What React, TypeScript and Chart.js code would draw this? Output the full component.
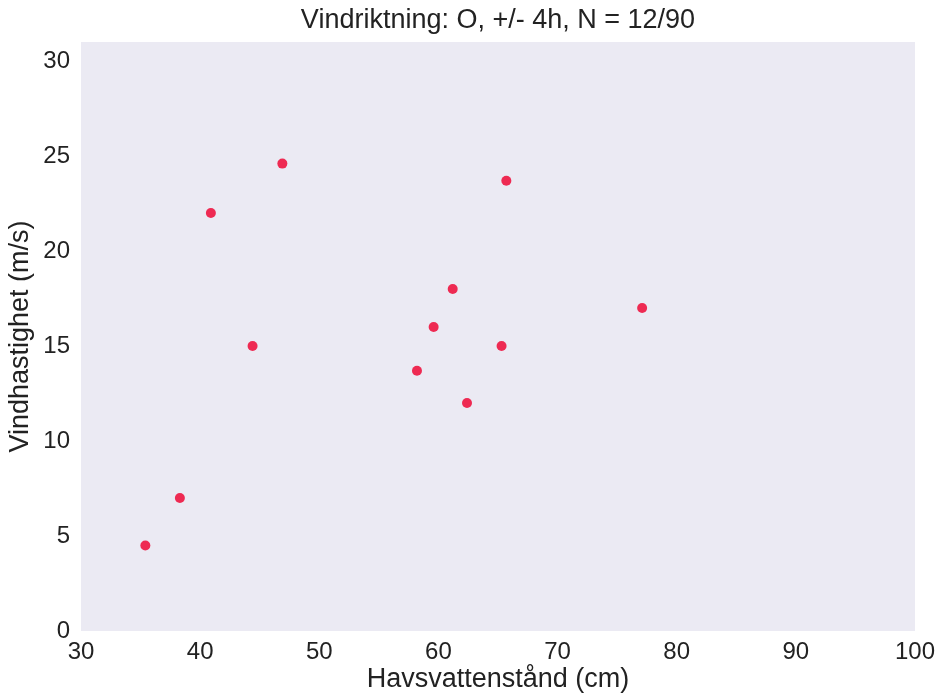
import React, { useEffect, useRef } from "react";
import { Chart, registerables } from "chart.js";

Chart.register(...registerables);

const titleText = "Vindriktning: O, +/- 4h, N = 12/90";
const xLabel = "Havsvattenstånd (cm)";
const yLabel = "Vindhastighet (m/s)";

const waterLevel = [35.4, 38.3, 40.9, 44.4, 46.9, 58.2, 59.6, 61.2, 62.4, 65.3, 65.7, 77.1];
const windSpeed = [4.5, 7.0, 22.0, 15.0, 24.6, 13.7, 16.0, 18.0, 12.0, 15.0, 23.7, 17.0];

const xTicks = [30, 40, 50, 60, 70, 80, 90, 100];
const yTicks = [0, 5, 10, 15, 20, 25, 30];

const FONT = "'Liberation Sans', Arial, sans-serif";

const bgPlugin = {
  id: "plotBg",
  beforeDraw(chart: any) {
    const { ctx, chartArea } = chart;
    if (!chartArea) return;
    ctx.save();
    ctx.fillStyle = "#EBEAF3";
    ctx.fillRect(chartArea.left, chartArea.top, chartArea.right - chartArea.left, chartArea.bottom - chartArea.top);
    ctx.restore();
  },
  afterDraw(chart: any) {
    const { ctx, chartArea } = chart;
    if (!chartArea) return;
    ctx.save();
    ctx.fillStyle = "#222";
    ctx.font = `27px ${FONT}`;
    ctx.textAlign = "center";
    ctx.textBaseline = "middle";
    ctx.fillText(titleText, (chartArea.left + chartArea.right) / 2, 21);
    ctx.restore();
  },
};

export default function App() {
  const ref = useRef<HTMLCanvasElement | null>(null);

  useEffect(() => {
    if (!ref.current) return;
    const points = waterLevel.map((x, i) => ({ x, y: windSpeed[i] }));
    const chart = new Chart(ref.current, {
      type: "scatter",
      data: {
        datasets: [
          {
            data: points,
            backgroundColor: "#EE2A52",
            borderColor: "#EE2A52",
            borderWidth: 0,
            pointRadius: 5,
          },
        ],
      },
      plugins: [bgPlugin],
      options: {
        responsive: false,
        animation: false,
        layout: { padding: { left: 0, right: 25, top: 42, bottom: 0 } },
        plugins: {
          legend: { display: false },
          tooltip: { enabled: false },
          title: { display: false },
        },
        scales: {
          x: {
            type: "linear",
            min: 30,
            max: 100,
            grid: { display: false, drawTicks: false },
            border: { display: false },
            afterBuildTicks: (scale: any) => {
              scale.ticks = xTicks.map((v) => ({ value: v }));
            },
            afterFit: (scale: any) => {
              scale.height = 62;
            },
            ticks: {
              color: "#222",
              padding: 7,
              maxRotation: 0,
              autoSkip: false,
              font: { family: FONT, size: 24, lineHeight: 1.2 },
            },
            title: {
              display: true,
              text: xLabel,
              color: "#222",
              padding: 0,
              font: { family: FONT, size: 27, lineHeight: 1 },
            },
          },
          y: {
            type: "linear",
            min: 0,
            max: 31,
            grid: { display: false, drawTicks: false },
            border: { display: false },
            afterBuildTicks: (scale: any) => {
              scale.ticks = yTicks.map((v) => ({ value: v }));
            },
            afterFit: (scale: any) => {
              scale.width = 81;
            },
            ticks: {
              color: "#222",
              padding: 11,
              autoSkip: false,
              font: { family: FONT, size: 24, lineHeight: 1.2 },
            },
            title: {
              display: true,
              text: yLabel,
              color: "#222",
              padding: { top: 7, bottom: 0 },
              font: { family: FONT, size: 27, lineHeight: 1 },
            },
          },
        },
      },
    });
    return () => chart.destroy();
  }, []);

  return (
    <div style={{ position: "fixed", left: 0, top: 0, width: 942, height: 693, background: "#fff" }}>
      <canvas ref={ref} width={942} height={693} style={{ width: 942, height: 693, display: "block" }} />
    </div>
  );
}
